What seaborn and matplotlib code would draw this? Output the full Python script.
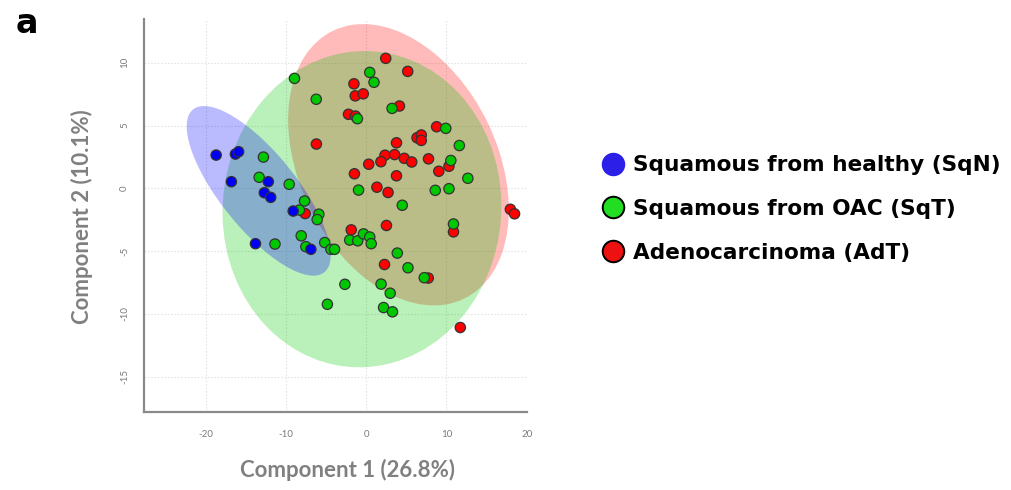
import numpy as np
import pandas as pd
import matplotlib
matplotlib.use("Agg")
import matplotlib.pyplot as plt
from matplotlib.patches import Ellipse
from matplotlib.lines import Line2D
from matplotlib.font_manager import FontProperties
import seaborn as sns

# PCA scores (component 1, component 2) per tissue group
sqn_x = [-18.7, -16.3, -15.9, -16.8, -12.2, -12.7, -11.9, -9.1, -13.8, -6.9]
sqn_y = [2.65, 2.73, 2.92, 0.53, 0.53, -0.35, -0.72, -1.81, -4.41, -4.86]

sqt_x = [-8.94, 0.44, 0.97, -6.23, 3.22, -1.10, 9.91, 11.60, 10.54, 12.66, -0.96, 8.60,
         10.31, -12.81, -13.34, -9.60, -7.69, -8.33, -5.90, -6.11, -8.10, -7.52, -11.37,
         -5.17, -4.40, -3.95, -2.06, -1.06, -0.34, 0.44, 0.62, 4.49, 10.87, 3.87, 5.20,
         7.23, -2.66, 1.85, 2.99, -4.84, 2.16, 3.27]
sqt_y = [8.76, 9.24, 8.45, 7.10, 6.37, 5.55, 4.78, 3.41, 2.22, 0.80, -0.14, -0.16,
         -0.03, 2.49, 0.88, 0.32, -1.01, -1.73, -2.06, -2.49, -3.78, -4.65, -4.44,
         -4.32, -4.86, -4.86, -4.12, -4.18, -3.63, -3.88, -4.41, -1.35, -2.84, -5.16,
         -6.33, -7.12, -7.65, -7.63, -8.36, -9.24, -9.50, -9.84]

adt_x = [2.43, 5.17, -1.53, -1.37, -0.37, 4.14, -2.21, -1.35, -6.21, 3.77, 8.77, 6.33,
         6.86, 6.86, 2.34, 3.53, 4.74, 5.67, 7.76, 1.83, 0.31, 10.31, 9.04, -1.47, 3.77,
         1.33, 2.72, -7.61, -1.87, 2.52, 10.87, 17.96, 18.48, 2.28, 7.73, 11.72]
adt_y = [10.36, 9.32, 8.33, 7.37, 7.53, 6.56, 5.90, 5.76, 3.53, 3.63, 4.91, 4.03,
         4.25, 3.82, 2.64, 2.69, 2.39, 2.10, 2.35, 2.12, 1.92, 1.76, 1.36, 1.16, 1.00,
         0.09, -0.33, -2.01, -3.31, -2.96, -3.47, -1.67, -2.03, -6.07, -7.15, -11.09]

groups = ["SqN", "SqT", "AdT"]
legend_labels = ["Squamous from healthy (SqN)", "Squamous from OAC (SqT)", "Adenocarcinoma (AdT)"]

# Confidence-region summaries per group: centre, half extents, correlation
ell_cx = [-13.4, -0.53, 4.02]
ell_cy = [-0.2, -1.66, 1.88]
ell_rx = [8.97, 17.37, 13.75]
ell_ry = [6.76, 12.6, 11.21]
ell_r = [-0.76, 0.02, -0.32]

x_ticks = [-20, -10, 0, 10, 20]
y_ticks = [-15, -10, -5, 0, 5, 10]

point_colors = {"SqN": "#0000F5", "SqT": "#00C800", "AdT": "#FF0000"}
fill_colors = {"SqN": "#0000FF", "SqT": "#00C800", "AdT": "#FF0000"}
legend_colors = {"SqN": "#2B1FE8", "SqT": "#22DD22", "AdT": "#EE1111"}

sns.set_style("white")
plt.rcParams["axes.unicode_minus"] = False
plt.rcParams["text.color"] = "black"

# draw order: AdT underneath, then SqT, then SqN on top
order = ["AdT", "SqT", "SqN"]
coords = {"SqN": (sqn_x, sqn_y), "SqT": (sqt_x, sqt_y), "AdT": (adt_x, adt_y)}
df = pd.concat([
    pd.DataFrame({"PC1": coords[g][0], "PC2": coords[g][1], "group": g}) for g in order
], ignore_index=True)

fig = plt.figure(figsize=(10.12, 4.90), dpi=100)
ax = fig.add_axes([0.1426, 0.1598, 0.3779, 0.8008])

for g in order:
    i = groups.index(g)
    sxy = ell_r[i] * ell_rx[i] * ell_ry[i]
    cov = np.array([[ell_rx[i] ** 2, sxy], [sxy, ell_ry[i] ** 2]])
    vals, vecs = np.linalg.eigh(cov)
    major = vecs[:, 1]
    angle = np.degrees(np.arctan2(major[1], major[0]))
    ax.add_patch(Ellipse((ell_cx[i], ell_cy[i]), 2 * np.sqrt(vals[1]), 2 * np.sqrt(vals[0]),
                         angle=angle, facecolor=fill_colors[g], edgecolor="none",
                         alpha=0.27, zorder=1))

sns.scatterplot(data=df, x="PC1", y="PC2", hue="group", palette=point_colors,
                hue_order=order, s=55, edgecolor="#333333", linewidth=0.9,
                legend=False, ax=ax, zorder=3)

ax.set_xlim(-27.65, 20.0)
ax.set_ylim(-17.8, 13.47)
ax.set_xticks(x_ticks)
ax.set_yticks(y_ticks)
ax.set_xticklabels([str(t) for t in x_ticks])
ax.set_yticklabels([str(t) for t in y_ticks], rotation=90, va="center")
ax.grid(True, linestyle=(0, (1.5, 1.5)), color="#e4e4e4", linewidth=0.8, zorder=0)
ax.set_axisbelow(True)

for side in ["top", "right"]:
    ax.spines[side].set_visible(False)
for side in ["left", "bottom"]:
    ax.spines[side].set_color("#8a8a8a")
    ax.spines[side].set_linewidth(1.6)
ax.tick_params(axis="x", direction="out", length=4, width=1.4, color="#8a8a8a",
               labelsize=7, labelcolor="#7a7a7a", pad=9)
ax.tick_params(axis="y", direction="out", length=5, width=1.4, color="#8a8a8a",
               labelsize=7, labelcolor="#7a7a7a", pad=6)
for lab in ax.get_xticklabels() + ax.get_yticklabels():
    lab.set_family("Lato")

ax.set_xlabel("Component 1 (26.8%)", family="Lato", weight="bold", size=16, color="#808080")
ax.set_ylabel("Component 2 (10.1%)", family="Lato", weight="bold", size=16, color="#808080")
ax.xaxis.set_label_coords(0.53, -0.12)
ax.yaxis.set_label_coords(-0.135, 0.496)

fig.text(16 / 1012, 1 - 33 / 490, "a", family="DejaVu Sans", weight="bold", size=24,
         color="black", ha="left", va="baseline")

handles = []
for g in groups:
    edge = legend_colors[g] if g == "SqN" else "black"
    handles.append(Line2D([], [], linestyle="none", marker="o", markersize=15.5,
                          markerfacecolor=legend_colors[g], markeredgecolor=edge,
                          markeredgewidth=1.4))
leg = ax.legend(handles, legend_labels, loc="center left",
                bbox_to_anchor=(602.5 / 1012, 1 - 209 / 490), bbox_transform=fig.transFigure,
                frameon=False, prop=FontProperties(family="DejaVu Sans", weight="bold", size=15.6),
                handlelength=1.0, handletextpad=0.41, labelspacing=1.1, borderpad=0,
                borderaxespad=0)
for t in leg.get_texts():
    t.set_color("black")

fig.savefig("out.png", dpi=100)
